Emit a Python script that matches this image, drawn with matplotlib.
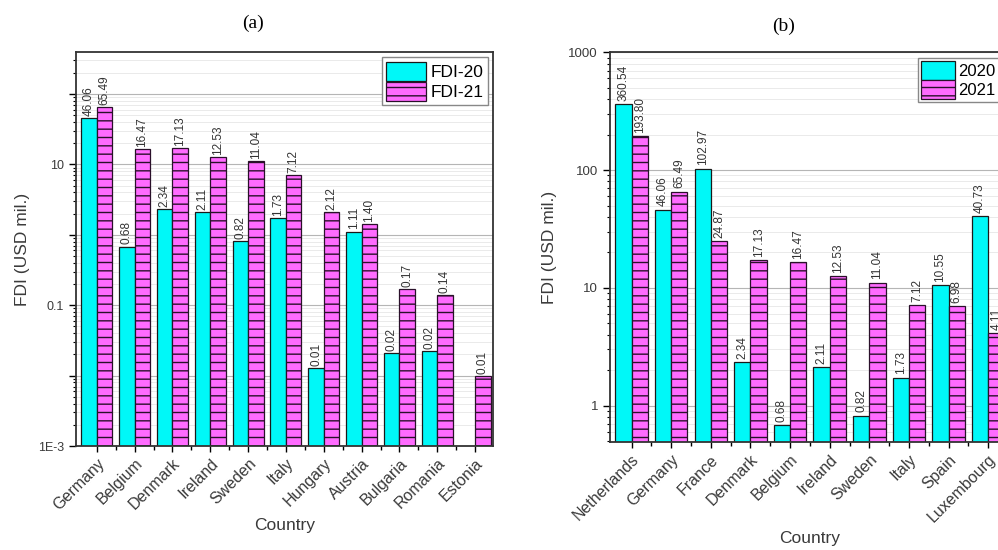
import numpy as np
import matplotlib
matplotlib.use("Agg")
import matplotlib.pyplot as plt
from matplotlib.ticker import LogLocator, FuncFormatter, FixedLocator, NullFormatter

plt.rcParams['font.family'] = ['Liberation Sans', 'DejaVu Sans']

# (a) FDI by country
countries_a = ['Germany', 'Belgium', 'Denmark', 'Ireland', 'Sweden', 'Italy',
               'Hungary', 'Austria', 'Bulgaria', 'Romania', 'Estonia']
fdi20 = [46.06, 0.68, 2.34, 2.11, 0.82, 1.73, 0.013, 1.11, 0.021, 0.022, np.nan]
fdi21 = [65.49, 16.47, 17.13, 12.53, 11.04, 7.12, 2.12, 1.40, 0.17, 0.14, 0.01]

# (b) FDI by country
countries_b = ['Netherlands', 'Germany', 'France', 'Denmark', 'Belgium',
               'Ireland', 'Sweden', 'Italy', 'Spain', 'Luxembourg']
y2020 = [360.54, 46.06, 102.97, 2.34, 0.68, 2.11, 0.82, 1.73, 10.55, 40.73]
y2021 = [193.80, 65.49, 24.87, 17.13, 16.47, 12.53, 11.04, 7.12, 6.98, 4.11]

CYAN = '#00F8F8'
MAGENTA = '#FF6BFF'
W = 0.41


def draw_panel(ax, names, s1, s2, labels, ylim, show_exp, tick_fs, ypad):
    x = np.arange(len(names))
    ax.bar(x - W / 2, s1, W, color=CYAN, edgecolor='#1a1a1a', linewidth=0.9, label=labels[0])
    ax.bar(x + W / 2, s2, W, color=MAGENTA, edgecolor='#2a102a', linewidth=0.9,
           hatch='--', label=labels[1])
    for xs, vals in ((x - W / 2, s1), (x + W / 2, s2)):
        for xi, v in zip(xs, vals):
            if np.isnan(v):
                continue
            ax.text(xi, v * 1.07, f"{v:.2f}", rotation=90, ha='center', va='bottom',
                    fontsize=8.5, color='#333333')

    ax.set_yscale('log')
    ax.set_ylim(*ylim)
    ax.yaxis.set_major_locator(LogLocator(base=10, numticks=20))
    ax.yaxis.set_minor_locator(LogLocator(base=10, subs=np.arange(2, 10), numticks=20))
    ax.yaxis.set_minor_formatter(NullFormatter())

    def fmt(v, pos):
        e = int(round(np.log10(v)))
        if not show_exp(e):
            return ''
        if e <= -3:
            return f"1E{e}"
        if e < 0:
            return f"{v:g}"
        return f"{int(round(v))}"
    ax.yaxis.set_major_formatter(FuncFormatter(fmt))

    ax.set_xticks(x)
    ax.set_xticklabels(names, rotation=45, ha='right', va='top', rotation_mode='anchor',
                       fontsize=11.5, color='#3a3a3a')
    ax.xaxis.set_minor_locator(FixedLocator(x[:-1] + 0.5))
    ax.tick_params(axis='x', which='major', length=4, width=1, pad=3)
    ax.tick_params(axis='x', which='minor', length=3, width=1)
    ax.tick_params(axis='y', which='major', length=5, width=1, labelsize=tick_fs,
                   labelcolor='#3a3a3a')
    ax.tick_params(axis='y', which='minor', length=2.5, width=0.8)

    ax.set_axisbelow(True)
    ax.yaxis.grid(True, which='major', color='#b5b5b5', linewidth=0.8)
    ax.yaxis.grid(True, which='minor', color='#e6e6e6', linewidth=0.6)
    for sp in ax.spines.values():
        sp.set_linewidth(1.3)
        sp.set_color('#333333')

    ax.set_xlabel('Country', fontsize=12.5, color='#3a3a3a', labelpad=4)
    ax.set_ylabel('FDI (USD mil.)', fontsize=12.5, color='#3a3a3a', labelpad=ypad)
    return x


fig = plt.figure(figsize=(9.98, 5.5), dpi=100)

ax1 = fig.add_axes([0.0762, 0.189, 0.418, 0.716])
xa = draw_panel(ax1, countries_a, fdi20, fdi21, ['FDI-20', 'FDI-21'], (1e-3, 390),
                lambda e: e % 2 == 1, 9, 6)
ax1.set_xlim(-0.55, 10.48)
ax1.legend(loc='upper right', fontsize=12.5, frameon=True, fancybox=False,
           edgecolor='#888888', framealpha=1, handlelength=2.3, handleheight=1.3,
           handletextpad=0.25, labelspacing=0.05, borderpad=0.25, borderaxespad=0.3)

ax2 = fig.add_axes([0.611, 0.196, 0.401, 0.709])
xb = draw_panel(ax2, countries_b, y2020, y2021, ['2020', '2021'], (0.49, 1000),
                lambda e: True, 9.5, 8)
ax2.set_xlim(-0.55, 9.55)
ax2.legend(loc='upper left', bbox_to_anchor=(918 / 998, 1 - 58 / 550),
           bbox_transform=fig.transFigure, fontsize=12, frameon=True, fancybox=False,
           edgecolor='#888888', framealpha=1, handlelength=2.0, handleheight=1.3,
           handletextpad=0.2, labelspacing=0.05, borderpad=0.2, borderaxespad=0)

fig.text(0.2535, 0.958, '(a)', ha='center', va='center', fontsize=14,
         family='Liberation Serif')
fig.text(0.785, 0.953, '(b)', ha='center', va='center', fontsize=14,
         family='Liberation Serif')

fig.savefig('out.png', dpi=100)
